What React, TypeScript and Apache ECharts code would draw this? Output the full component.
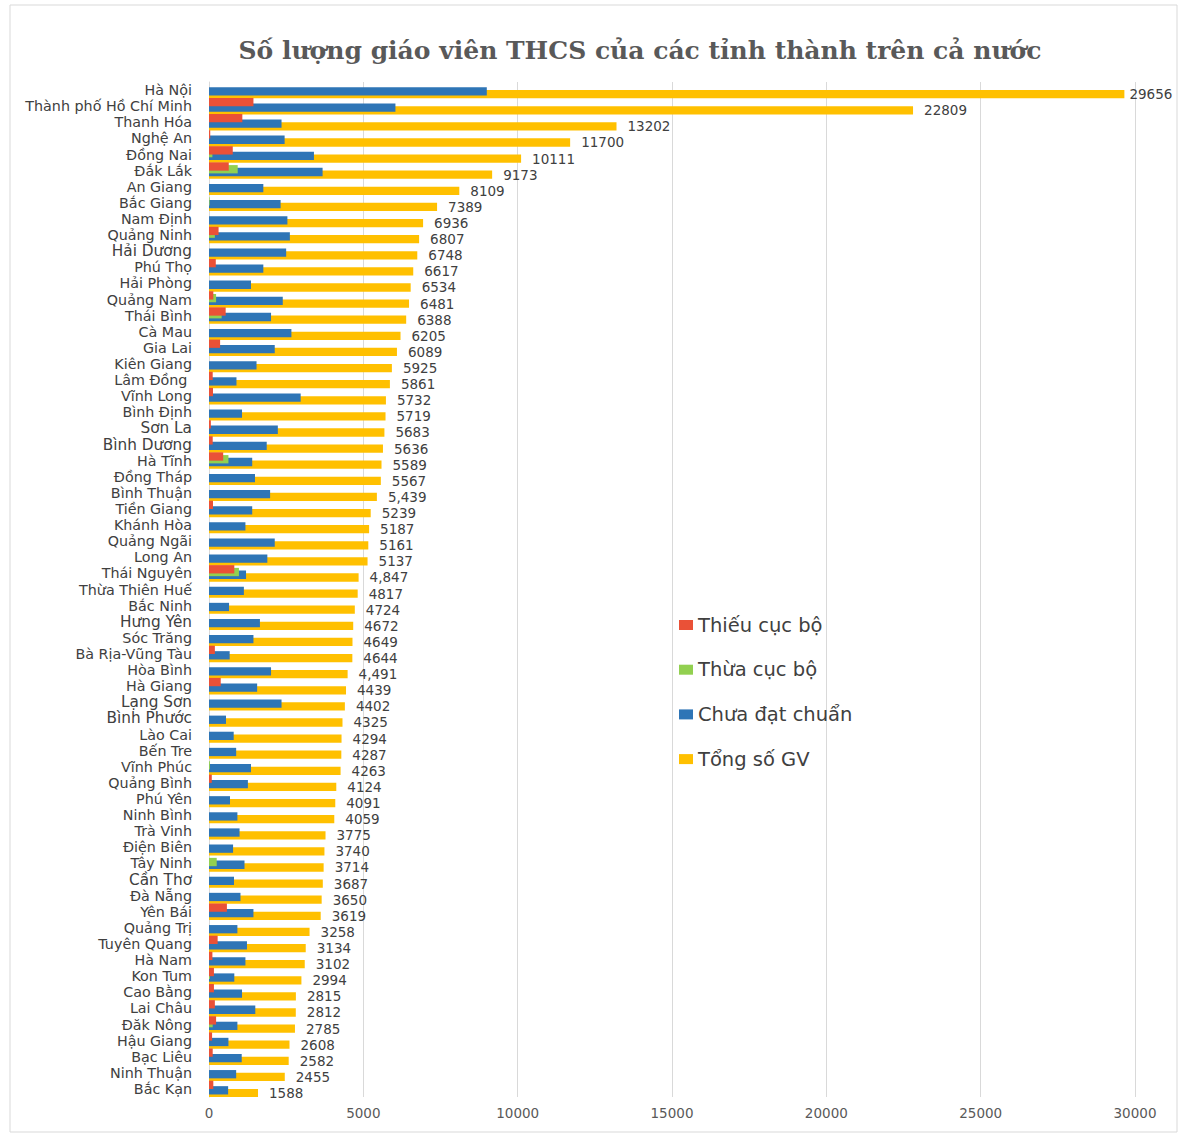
import { useEffect, useRef } from "react";
import * as echarts from "echarts";

// Provinces, top to bottom
const provinces = [
  "Hà Nội", "Thành phố Hồ Chí Minh", "Thanh Hóa", "Nghệ An", "Đồng Nai", "Đắk Lắk",
  "An Giang", "Bắc Giang", "Nam Định", "Quảng Ninh", "Hải Dương", "Phú Thọ",
  "Hải Phòng", "Quảng Nam", "Thái Bình", "Cà Mau", "Gia Lai", "Kiên Giang",
  "Lâm Đồng ", "Vĩnh Long", "Bình Định", "Sơn La", "Bình Dương", "Hà Tĩnh",
  "Đồng Tháp", "Bình Thuận", "Tiền Giang", "Khánh Hòa", "Quảng Ngãi", "Long An",
  "Thái Nguyên", "Thừa Thiên Huế", "Bắc Ninh", "Hưng Yên", "Sóc Trăng", "Bà Rịa-Vũng Tàu",
  "Hòa Bình", "Hà Giang", "Lạng Sơn", "Bình Phước", "Lào Cai", "Bến Tre",
  "Vĩnh Phúc", "Quảng Bình", "Phú Yên", "Ninh Bình", "Trà Vinh", "Điện Biên",
  "Tây Ninh", "Cần Thơ", "Đà Nẵng", "Yên Bái", "Quảng Trị", "Tuyên Quang",
  "Hà Nam", "Kon Tum", "Cao Bằng", "Lai Châu", "Đăk Nông", "Hậu Giang",
  "Bạc Liêu", "Ninh Thuận", "Bắc Kạn",
];

// Thiếu cục bộ
const shortage = [
  0, 1440, 1080, 40, 770, 640,
  0, 0, 0, 310, 0, 220,
  0, 140, 540, 0, 360, 0,
  120, 130, 0, 60, 120, 460,
  0, 0, 130, 0, 0, 0,
  820, 0, 0, 0, 0, 190,
  0, 380, 0, 0, 0, 0,
  0, 90, 0, 0, 0, 0,
  0, 0, 0, 580, 0, 280,
  110, 160, 160, 190, 230, 100,
  120, 0, 140,
];

// Thừa cục bộ
const surplus = [
  0, 0, 0, 0, 110, 930,
  0, 20, 0, 190, 0, 0,
  0, 230, 410, 0, 0, 0,
  0, 0, 0, 0, 0, 630,
  0, 0, 0, 0, 0, 0,
  970, 0, 0, 0, 0, 0,
  0, 0, 0, 0, 0, 0,
  30, 0, 0, 0, 0, 0,
  250, 0, 0, 0, 0, 0,
  0, 30, 0, 0, 120, 0,
  0, 0, 0,
];

// Chưa đạt chuẩn
const unqualified = [
  9000, 6040, 2350, 2450, 3400, 3680,
  1760, 2320, 2540, 2620, 2500, 1760,
  1360, 2390, 2010, 2670, 2130, 1540,
  890, 2970, 1070, 2230, 1870, 1400,
  1490, 1980, 1400, 1180, 2130, 1890,
  1200, 1130, 650, 1650, 1440, 670,
  2010, 1560, 2350, 550, 800, 880,
  1360, 1260, 680, 920, 990, 780,
  1150, 810, 1020, 1440, 920, 1230,
  1180, 820, 1070, 1500, 920, 630,
  1060, 880, 620,
];

// Tổng số GV
const totalTeachers = [
  29656, 22809, 13202, 11700, 10111, 9173,
  8109, 7389, 6936, 6807, 6748, 6617,
  6534, 6481, 6388, 6205, 6089, 5925,
  5861, 5732, 5719, 5683, 5636, 5589,
  5567, 5439, 5239, 5187, 5161, 5137,
  4847, 4817, 4724, 4672, 4649, 4644,
  4491, 4439, 4402, 4325, 4294, 4287,
  4263, 4124, 4091, 4059, 3775, 3740,
  3714, 3687, 3650, 3619, 3258, 3134,
  3102, 2994, 2815, 2812, 2785, 2608,
  2582, 2455, 1588,
];

// Totals printed with a thousands separator
const separatedTotals = ["Bình Thuận", "Thái Nguyên", "Hòa Bình"];
// Province names set in a slightly larger type
const largerNames = ["Hải Dương", "Sơn La", "Bình Dương", "Hưng Yên", "Lạng Sơn", "Bình Phước", "Cần Thơ"];

const seriesNames = ["Thiếu cục bộ", "Thừa cục bộ", "Chưa đạt chuẩn", "Tổng số GV"];
const seriesColors = ["#EA5137", "#92D050", "#2E75B6", "#FFC000"];

const xMax = 30000;
const xInterval = 5000;

const TITLE = "Số lượng giáo viên THCS của các tỉnh thành trên cả nước";
const SANS = "'DejaVu Sans', 'Noto Sans', sans-serif";

export default function App() {
  const ref = useRef<HTMLDivElement>(null);

  useEffect(() => {
    if (!ref.current) return;
    const chart = echarts.init(ref.current, undefined, { renderer: "svg" });

    const fmtTotal = (idx: number) => {
      const v = totalTeachers[idx];
      return separatedTotals.includes(provinces[idx].trim())
        ? v.toLocaleString("en-US")
        : String(v);
    };

    const barCommon = {
      type: "bar" as const,
      barWidth: 8.3,
      barGap: "-67%",
      barCategoryGap: 0,
    };

    const option: echarts.EChartsOption = {
      animation: false,
      backgroundColor: "#ffffff",
      graphic: [
        {
          type: "rect",
          shape: { x: 10, y: 5, width: 1167, height: 1127 },
          style: { fill: "none", stroke: "#d9d9d9", lineWidth: 1 },
          silent: true,
          z: -1,
        },
        {
          type: "text",
          x: 640,
          y: 50,
          style: {
            text: TITLE,
            fill: "#595959",
            font: "bold 25px 'DejaVu Serif', serif",
            textAlign: "center",
            textVerticalAlign: "middle",
          },
        },
      ],
      legend: {
        orient: "vertical",
        left: 674,
        top: 610,
        itemWidth: 14,
        itemHeight: 10,
        itemGap: 24.7,
        icon: "rect",
        data: seriesNames,
        textStyle: {
          fontFamily: SANS,
          fontSize: 19.5,
          lineHeight: 20,
          color: "#404040",
          padding: [0, 0, 0, 0],
        },
      },
      grid: { left: 209, right: 45, top: 82, bottom: 37, containLabel: false },
      xAxis: {
        type: "value",
        min: 0,
        max: xMax,
        interval: xInterval,
        axisLine: { show: false },
        axisTick: { show: false },
        splitLine: { lineStyle: { color: "#d9d9d9", width: 1 } },
        axisLabel: {
          fontFamily: SANS,
          fontSize: 13.5,
          color: "#595959",
          margin: 9,
          formatter: (v: number) => String(v),
        },
      },
      yAxis: {
        type: "category",
        inverse: true,
        data: provinces,
        axisLine: { show: true, lineStyle: { color: "#d9d9d9" } },
        axisTick: { show: false },
        axisLabel: {
          interval: 0,
          margin: 17,
          formatter: (v: string) =>
            largerNames.includes(v.trim()) ? `{big|${v}}` : `{base|${v}}`,
          rich: {
            base: { fontFamily: SANS, fontSize: 14.3, lineHeight: 15, color: "#404040" },
            big: { fontFamily: SANS, fontSize: 15.3, lineHeight: 15, color: "#404040" },
          },
        },
      },
      series: [
        {
          ...barCommon,
          name: seriesNames[0],
          data: shortage,
          itemStyle: { color: seriesColors[0] },
          z: 5,
        },
        {
          ...barCommon,
          name: seriesNames[1],
          data: surplus,
          itemStyle: { color: seriesColors[1] },
          z: 4,
        },
        {
          ...barCommon,
          name: seriesNames[2],
          data: unqualified,
          itemStyle: { color: seriesColors[2] },
          z: 3,
        },
        {
          ...barCommon,
          name: seriesNames[3],
          data: totalTeachers.map((v, i) =>
            i === 0 ? { value: v, label: { distance: 5 } } : v
          ),
          itemStyle: { color: seriesColors[3] },
          z: 2,
          label: {
            show: true,
            position: "right",
            distance: 11,
            fontFamily: SANS,
            fontSize: 13.5,
            color: "#404040",
            formatter: (p: any) => fmtTotal(p.dataIndex),
          },
        },
      ],
    };

    chart.setOption(option);
    return () => chart.dispose();
  }, []);

  return (
    <div
      ref={ref}
      style={{ position: "absolute", left: 0, top: 0, width: 1180, height: 1134 }}
    />
  );
}
